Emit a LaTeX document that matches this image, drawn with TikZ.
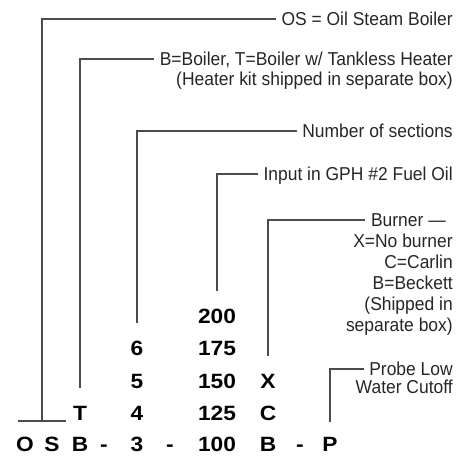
\documentclass[tikz,border=0pt]{standalone}
\usepackage{fontspec}
\newfontfamily\lblfont{Liberation Sans}[FakeStretch=0.935]
\newfontfamily\codefont{Liberation Sans}[FakeStretch=1.1]

\begin{document}
\begin{tikzpicture}[
  x=0.75pt, y=-0.75pt,
  lbl/.style={anchor=east, inner sep=0pt, text height=10pt, text depth=0pt,
              font=\lblfont\fontsize{14}{16}\selectfont, text=black!85},
  code/.style={inner sep=0pt, text height=11.1pt, text depth=0pt,
               font=\codefont\bfseries\fontsize{15.5}{18}\selectfont},
  lead/.style={draw=black!70, line width=0.8pt, shorten <=13pt, shorten >=4pt}
]
  \useasboundingbox (0,0) rectangle (474,458);

  \node[lbl] (os)       at (453, 19) {OS = Oil Steam Boiler};
  \node[lbl] (type)     at (453, 59) {B=Boiler, T=Boiler w/ Tankless Heater};
  \node[lbl] (typenote) at (453, 79) {(Heater kit shipped in separate box)};
  \node[lbl] (sect)     at (453,131) {Number of sections};
  \node[lbl] (input)    at (453,174) {Input in GPH \#2 Fuel Oil};
  \node[lbl] (burner)   at (446,220) {Burner \textemdash};
  \node[lbl] (bnone)    at (453,241) {X=No burner};
  \node[lbl] (bcarlin)  at (453,262) {C=Carlin};
  \node[lbl] (bbeckett) at (453,283) {B=Beckett};
  \node[lbl] (bship)    at (453,304) {(Shipped in};
  \node[lbl] (bbox)     at (453,325) {separate box)};
  \node[lbl] (probe)    at (453,369) {Probe Low};
  \node[lbl] (water)    at (453,387) {Water Cutoff};

  \node[code] (in200) at (217,316) {200};
  \node[code] (sec6)  at (137,348) {6};
  \node[code] (in175) at (217,348) {175};
  \node[code] (sec5)  at (137,381) {5};
  \node[code] (in150) at (217,381) {150};
  \node[code] (burnx) at (268,381) {X};
  \node[code] (typet) at ( 80,413) {T};
  \node[code] (sec4)  at (137,413) {4};
  \node[code] (in125) at (217,413) {125};
  \node[code] (burnc) at (268,413) {C};
  \node[code] (codeo) at ( 25,444) {O};
  \node[code] (codes) at ( 52,444) {S};
  \node[code] (typeb) at ( 80,444) {B};
  \node[code] (dasha) at (104,444) {-};
  \node[code] (sec3)  at (137,444) {3};
  \node[code] (dashb) at (170,444) {-};
  \node[code] (in100) at (217,444) {100};
  \node[code] (burnb) at (268,444) {B};
  \node[code] (dashc) at (300,444) {-};
  \node[code] (probp) at (330,444) {P};

  \coordinate (osleft)  at (18,421);
  \coordinate (osmid)   at (42,421);
  \coordinate (osright) at (66,421);

  \draw[lead, shorten <=0pt, shorten >=0pt] (osleft) -- (osright);
  \draw[lead, shorten <=0pt] (osmid) |- (os.west);
  \draw[lead] (typet.north) |- (type.west);
  \draw[lead] (sec6.north)  |- (sect.west);
  \draw[lead] (in200.north) |- (input.west);
  \draw[lead] (burnx.north) |- (burner.west);
  \draw[lead, shorten <=11pt] (probp.north) |- (probe.west);
\end{tikzpicture}
\end{document}
